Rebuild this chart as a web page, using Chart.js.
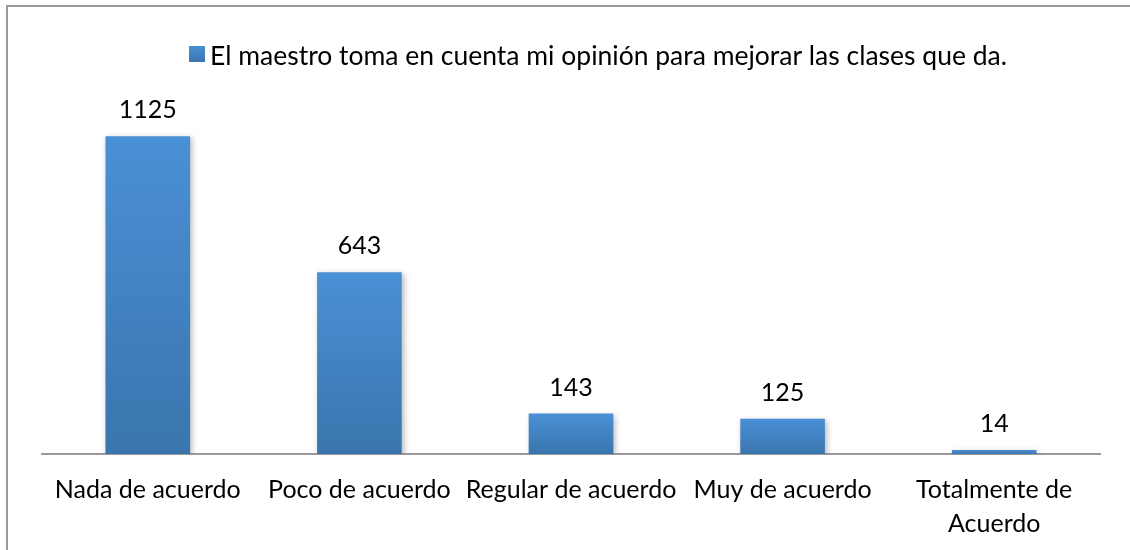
<!DOCTYPE html>
<html>
<head>
<meta charset="utf-8">
<script src="https://cdn.jsdelivr.net/npm/chart.js@4.4.1/dist/chart.umd.min.js"></script>
<style>
  html, body { margin: 0; padding: 0; background: #fff; }
  .wrap { position: relative; width: 1130px; height: 550px; overflow: hidden; }
  .frame { position: absolute; left: 6px; top: 5px; width: 1200px; height: 700px; border: 2px solid #999; }
  canvas { position: absolute; left: 0; top: 0; }
</style>
</head>
<body>
<div class="wrap">
  <div class="frame"></div>
  <canvas id="chart" width="1130" height="550"></canvas>
</div>
<script>
const categorias = ['Nada de acuerdo', 'Poco de acuerdo', 'Regular de acuerdo', 'Muy de acuerdo', ['Totalmente de', 'Acuerdo']];
const valores = [1125, 643, 143, 125, 14];
const serie = 'El maestro toma en cuenta mi opinión para mejorar las clases que da.';

const fuente = 'Lato, "Open Sans", sans-serif';
const tamano = 25;

// degradado vertical propio de cada barra
function degradado(context) {
  const chart = context.chart;
  const y = chart.scales.y;
  if (!chart.chartArea || !y || context.parsed === undefined) return '#4a8fd3';
  const top = y.getPixelForValue(context.parsed.y);
  const base = y.getPixelForValue(0);
  if (!isFinite(top) || base - top < 1) return '#4a8fd3';
  const g = chart.ctx.createLinearGradient(0, top, 0, base);
  g.addColorStop(0, '#4a90d6');
  g.addColorStop(1, '#3a75ad');
  return g;
}

// sombra suave de las barras
const sombra = {
  id: 'sombra',
  beforeDatasetsDraw(chart) {
    const ctx = chart.ctx;
    ctx.save();
    ctx.shadowColor = 'rgba(0,0,0,0.28)';
    ctx.shadowBlur = 6;
    ctx.shadowOffsetX = 2;
    ctx.shadowOffsetY = 2;
  },
  afterDatasetsDraw(chart) {
    chart.ctx.restore();
  }
};

// etiquetas de valor encima de las barras
const etiquetas = {
  id: 'etiquetas',
  afterDatasetsDraw(chart) {
    const ctx = chart.ctx;
    const meta = chart.getDatasetMeta(0);
    ctx.save();
    ctx.font = tamano + 'px ' + fuente;
    ctx.fillStyle = '#000';
    ctx.textAlign = 'center';
    ctx.textBaseline = 'middle';
    meta.data.forEach((bar, i) => {
      ctx.fillText(valores[i], bar.x, bar.y - 26);
    });
    ctx.restore();
  }
};

// leyenda
const leyenda = {
  id: 'leyenda',
  afterDraw(chart) {
    const ctx = chart.ctx;
    ctx.save();
    ctx.font = '26.5px ' + fuente;
    const texto = chart.data.datasets[0].label;
    const ancho = ctx.measureText(texto).width;
    const total = 16 + 5 + ancho;
    const x0 = 598 - total / 2;
    const g = ctx.createLinearGradient(0, 46, 0, 62);
    g.addColorStop(0, '#4a90d6');
    g.addColorStop(1, '#3a75ad');
    ctx.fillStyle = g;
    ctx.fillRect(x0, 46, 16, 16);
    ctx.fillStyle = '#000';
    ctx.textBaseline = 'middle';
    ctx.fillText(texto, x0 + 21, 56);
    ctx.restore();
  }
};

new Chart(document.getElementById('chart'), {
  type: 'bar',
  data: {
    labels: categorias,
    datasets: [{
      label: serie,
      data: valores,
      backgroundColor: degradado,
      categoryPercentage: 1,
      barPercentage: 0.4
    }]
  },
  options: {
    responsive: false,
    animation: false,
    layout: { padding: { left: 42, right: 30, top: 115, bottom: 0 } },
    plugins: {
      legend: { display: false },
      tooltip: { enabled: false }
    },
    scales: {
      x: {
        grid: { display: false, drawTicks: false },
        border: { display: true, color: '#9a9a9a', width: 2 },
        afterFit(scale) { scale.height = 96; },
        ticks: {
          color: '#000',
          padding: 19,
          maxRotation: 0,
          autoSkip: false,
          font: { family: fuente, size: tamano, lineHeight: 1.35 }
        }
      },
      y: {
        display: false,
        min: 0,
        max: 1200
      }
    }
  },
  plugins: [sombra, etiquetas, leyenda]
});
</script>
</body>
</html>
